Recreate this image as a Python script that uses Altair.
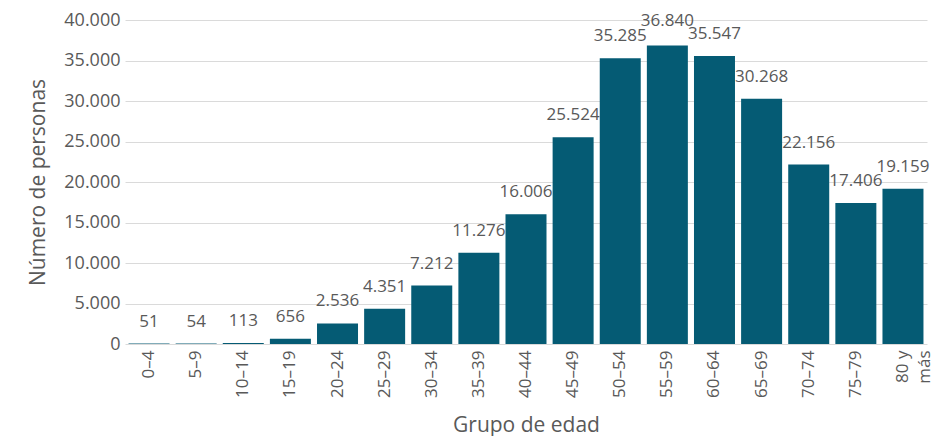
import altair as alt
import pandas as pd

groups = ["0-4", "5-9", "10-14", "15-19", "20-24", "25-29", "30-34", "35-39", "40-44",
          "45-49", "50-54", "55-59", "60-64", "65-69", "70-74", "75-79", "80 y más"]
values = [51, 54, 113, 656, 2536, 4351, 7212, 11276, 16006, 25524, 35285, 36840,
          35547, 30268, 22156, 17406, 19159]

df = pd.DataFrame({
    "grupo": groups,
    "valor": values,
    "etiqueta": [f"{v:,}".replace(",", ".") for v in values],
})

FONT = "Open Sans"
GREY = "#595959"
BAR = "#055B74"

x = alt.X("grupo:N", sort=groups, title="Grupo de edad",
          scale=alt.Scale(paddingInner=0.13, paddingOuter=0.075),
          axis=alt.Axis(labelAngle=270, labelAlign="right", labelBaseline="middle",
                        labelExpr="datum.value == '80 y más' ? ['80 y', 'más'] : replace(datum.value, '-', '–')",
                        labelFontSize=17, labelColor=GREY, labelPadding=6,
                        titleFontSize=21, titleColor=GREY, titleFontWeight="normal",
                        titlePadding=17, ticks=False, domain=False, labelLineHeight=22))
y = alt.Y("valor:Q", title="Número de personas",
          scale=alt.Scale(domain=[0, 40000]),
          axis=alt.Axis(values=[0, 5000, 10000, 15000, 20000, 25000, 30000, 35000, 40000],
                        labelExpr="replace(format(datum.value, ','), ',', '.')",
                        labelFontSize=18, labelColor=GREY, labelPadding=5,
                        titleFontSize=21, titleColor=GREY, titleFontWeight="normal",
                        titlePadding=15, ticks=False, domain=False,
                        gridColor="#dadada", gridWidth=1))

base = alt.Chart(df)
bars = base.mark_bar(color=BAR).encode(x=x, y=y)
enc = dict(x=alt.X("grupo:N", sort=groups), y="valor:Q", text="etiqueta:N")
labels = base.mark_text(fontSize=17, color=GREY, font=FONT, baseline="middle", dy=-22).encode(
    **enc).transform_filter("datum.grupo != '55-59'")
label_top = base.mark_text(fontSize=17, color=GREY, font=FONT, baseline="middle", dy=-25).encode(
    **enc).transform_filter("datum.grupo == '55-59'")

chart = (bars + labels + label_top).properties(
    width=802, height=324,
    autosize=alt.AutoSizeParams(type="none"),
    padding={"left": 117, "top": 12, "right": 17, "bottom": 110},
).configure(font=FONT).configure_view(stroke=None)

chart.save("out.html", embed_options={"renderer": "svg", "actions": False})
